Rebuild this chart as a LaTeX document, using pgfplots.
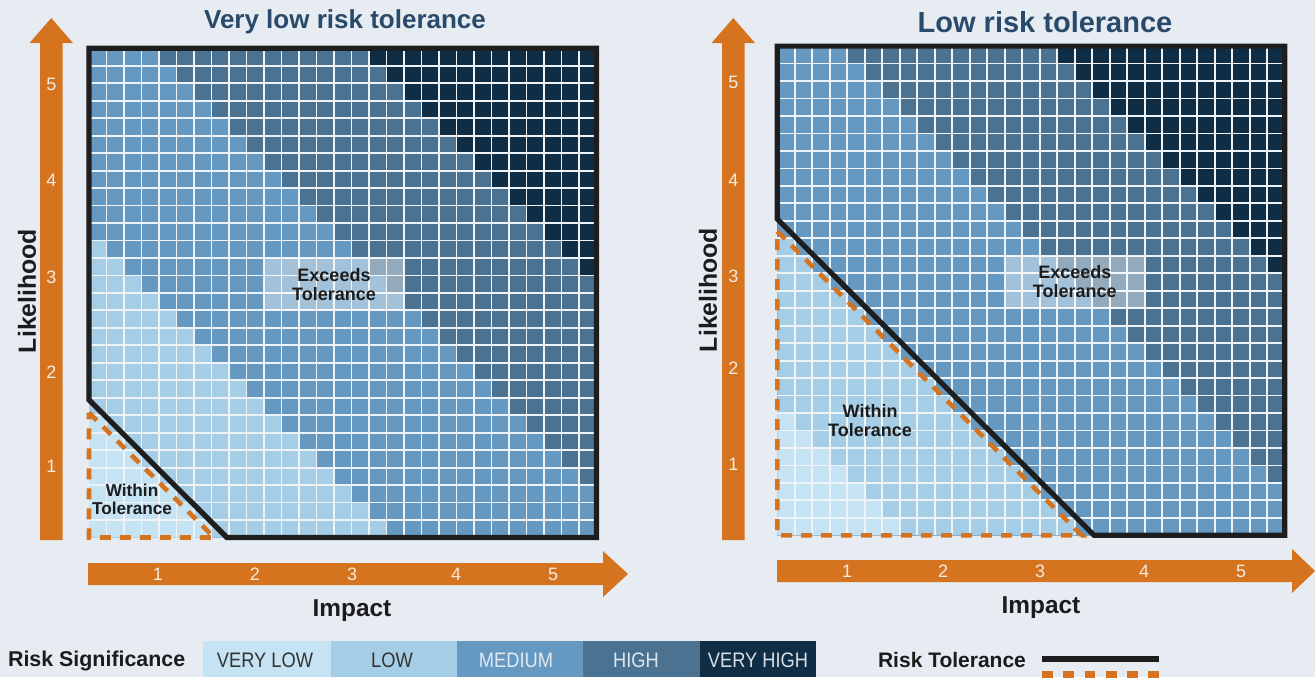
\documentclass[border=0pt]{standalone}
\usepackage{pgfplots}
\usepackage{pgfplotstable}
\pgfplotsset{compat=1.18}
\usepackage{fontspec}
\setmainfont{Liberation Sans}
\newfontfamily\narrowfont[FakeStretch=0.87]{Liberation Sans}

\definecolor{bg}{HTML}{E7ECF3}
\definecolor{rvlow}{HTML}{C5E3F3}
\definecolor{rlow}{HTML}{A6CDE6}
\definecolor{rmed}{HTML}{6699C1}
\definecolor{rhigh}{HTML}{4B7290}
\definecolor{rvhigh}{HTML}{0F2E45}
\definecolor{orng}{HTML}{D5731F}
\definecolor{ttl}{HTML}{294A6B}
\definecolor{ink}{HTML}{1C1C1C}
\definecolor{gridc}{HTML}{EEF3F8}
\definecolor{tickc}{HTML}{F6EBE0}
\definecolor{framec}{HTML}{1E1E1E}

% height of each band (cells counted from the bottom) per column
\pgfplotstableread{
c  vh  h   m   l   vl
0  28  28  28  17  7
1  28  28  28  16  6
2  28  28  28  15  5
3  28  28  28  14  4
4  28  28  27  13  3
5  28  28  26  12  2
6  28  28  25  11  1
7  28  28  24  10  0
8  28  28  23  9   0
9  28  28  22  8   0
10 28  28  21  7   0
11 28  28  20  6   0
12 28  28  19  5   0
13 28  28  18  4   0
14 28  28  17  3   0
15 28  28  16  2   0
16 28  27  15  1   0
17 28  26  14  0   0
18 28  25  13  0   0
19 28  24  12  0   0
20 28  23  11  0   0
21 28  22  10  0   0
22 28  21  9   0   0
23 28  20  8   0   0
24 28  19  7   0   0
25 28  18  6   0   0
26 28  17  5   0   0
27 28  16  4   0   0
28 28  15  3   0   0
29 28  15  3   0   0
}\cells

\pgfplotsset{riskgrid/.style={
  scale only axis, width=253.75pt, height=244.6pt,
  xmin=0, xmax=29, ymin=0, ymax=28,
  hide axis, clip=false, anchor=south west}}

\newcommand\riskcells{%
  \addplot[const plot, draw=none, fill=rvhigh] table[x=c,y=vh]{\cells} \closedcycle;
  \addplot[const plot, draw=none, fill=rhigh] table[x=c,y=h]{\cells} \closedcycle;
  \addplot[const plot, draw=none, fill=rmed] table[x=c,y=m]{\cells} \closedcycle;
  \addplot[const plot, draw=none, fill=rlow] table[x=c,y=l]{\cells} \closedcycle;
  \addplot[const plot, draw=none, fill=rvlow] table[x=c,y=vl]{\cells} \closedcycle;
  \pgfplotsinvokeforeach{1,...,28}{\addplot[gridc, line width=0.9pt] coordinates {(##1,0) (##1,28)};}
  \pgfplotsinvokeforeach{1,...,27}{\addplot[gridc, line width=0.9pt] coordinates {(0,##1) (29,##1)};}
}

\begin{document}
\begin{tikzpicture}
\begin{scope}[x=0.5pt,y=-0.5pt]
\path[use as bounding box, fill=bg] (0,0) rectangle (1315,677);
% arrows, left panel
\fill[orng] (40,540) -- (40,43) -- (29.5,43) -- (51.3,18) -- (73,43) -- (62.5,43) -- (62.5,540) -- cycle;
\fill[orng] (88,563) -- (603,563) -- (603,551) -- (628,574) -- (603,597) -- (603,585) -- (88,585) -- cycle;
% arrows, right panel
\fill[orng] (722,540) -- (722,43) -- (711.5,43) -- (733.3,18) -- (755,43) -- (744.5,43) -- (744.5,540) -- cycle;
\fill[orng] (777,560) -- (1292,560) -- (1292,549) -- (1315,571) -- (1292,593) -- (1292,582) -- (777,582) -- cycle;
\begin{scope}[every node/.style={font=\fontsize{9}{10}\selectfont, text=tickc}]
\foreach \t/\x in {1/158,2/255,3/352,4/456,5/553} \node at (\x,574) {\t};
\foreach \t/\y in {5/84,4/180,3/277,2/372,1/466} \node at (51.3,\y) {\t};
\foreach \t/\x in {1/847,2/943,3/1040,4/1144,5/1241} \node at (\x,571) {\t};
\foreach \t/\y in {5/82,4/180,3/276,2/368,1/464} \node at (733.3,\y) {\t};
\end{scope}
% titles and axis names
\node[font=\bfseries\fontsize{13}{15}\selectfont, text=ttl] at (345,22) {Very low risk tolerance};
\node[font=\bfseries\fontsize{14.5}{16}\selectfont, text=ttl] at (1045,22) {Low risk tolerance};
\node[font=\bfseries\fontsize{12.2}{14}\selectfont, text=ink] at (352,611) {Impact};
\node[font=\bfseries\fontsize{12.2}{14}\selectfont, text=ink] at (1041,608) {Impact};
\node[font=\bfseries\fontsize{12.4}{14}\selectfont, text=ink, rotate=90] at (27,291) {Likelihood};
\node[font=\bfseries\fontsize{12.4}{14}\selectfont, text=ink, rotate=90] at (708,290) {Likelihood};
% legend
\node[font=\bfseries\fontsize{10.7}{12}\selectfont, text=ink, anchor=west] at (1,661) {Risk Significance};
\fill[rvlow] (203,641) rectangle (331,677);
\fill[rlow] (331,641) rectangle (457,677);
\fill[rmed] (457,641) rectangle (583,677);
\fill[rhigh] (583,641) rectangle (700,677);
\fill[rvhigh] (700,641) rectangle (816,677);
\begin{scope}[every node/.style={font=\narrowfont\fontsize{10.5}{12}\selectfont}]
\node[text=black!80] at (265,660) {VERY LOW};
\node[text=black!80] at (392,660) {LOW};
\node[text=gridc!90!rmed] at (516,660) {MEDIUM};
\node[text=gridc!90!rhigh] at (636,660) {HIGH};
\node[text=gridc!90!rvhigh] at (758,660) {VERY HIGH};
\end{scope}
\node[font=\bfseries\fontsize{10.5}{12}\selectfont, text=ink, anchor=west] at (871,660) {Risk Tolerance};
\draw[framec, line width=3pt] (1042,658.5) -- (1159,658.5);
\draw[orng, line width=3.2pt, dash pattern=on 5.32pt off 5.32pt] (1042,674.5) -- (1159,674.5);
\end{scope}

% left panel: very low risk tolerance
\begin{axis}[riskgrid, at={(44.5pt,-268.75pt)}]
\riskcells
\addplot[draw=none, fill=white, fill opacity=0.4] coordinates {(10,13) (18,13) (18,16) (10,16) (10,13)};
\addplot[framec, line width=2.6pt] coordinates {(14,28) (29,28) (29,0) (7.88,0) (0,7.88) (0,28) (14,28)};
\addplot[orng, line width=2.3pt, dash pattern=on 5.5pt off 4.5pt] coordinates {(0,7.15) (7.15,0) (0,0) (0,7.15)};
\node[font=\bfseries\fontsize{9}{9.5}\selectfont, text=ink, align=center] at (axis cs:14,14.5) {Exceeds\\Tolerance};
\node[font=\bfseries\fontsize{8.6}{9}\selectfont, text=ink, align=center] at (axis cs:2.46,2.2) {Within\\Tolerance};
\end{axis}

% right panel: low risk tolerance
\begin{axis}[riskgrid, at={(388.65pt,-267.65pt)}]
\riskcells
\addplot[draw=none, fill=white, fill opacity=0.4] coordinates {(13,13) (21,13) (21,16) (13,16) (13,13)};
\addplot[framec, line width=2.6pt] coordinates {(14,28) (29,28) (29,0) (18.1,0) (0,18.1) (0,28) (14,28)};
\addplot[orng, line width=2.3pt, dash pattern=on 5.5pt off 4.5pt] coordinates {(0,17.4) (17.4,0) (0,0) (0,17.4)};
\node[font=\bfseries\fontsize{9}{9.5}\selectfont, text=ink, align=center] at (axis cs:17,14.5) {Exceeds\\Tolerance};
\node[font=\bfseries\fontsize{9}{9.5}\selectfont, text=ink, align=center] at (axis cs:5.3,6.54) {Within\\Tolerance};
\end{axis}
\end{tikzpicture}
\end{document}
